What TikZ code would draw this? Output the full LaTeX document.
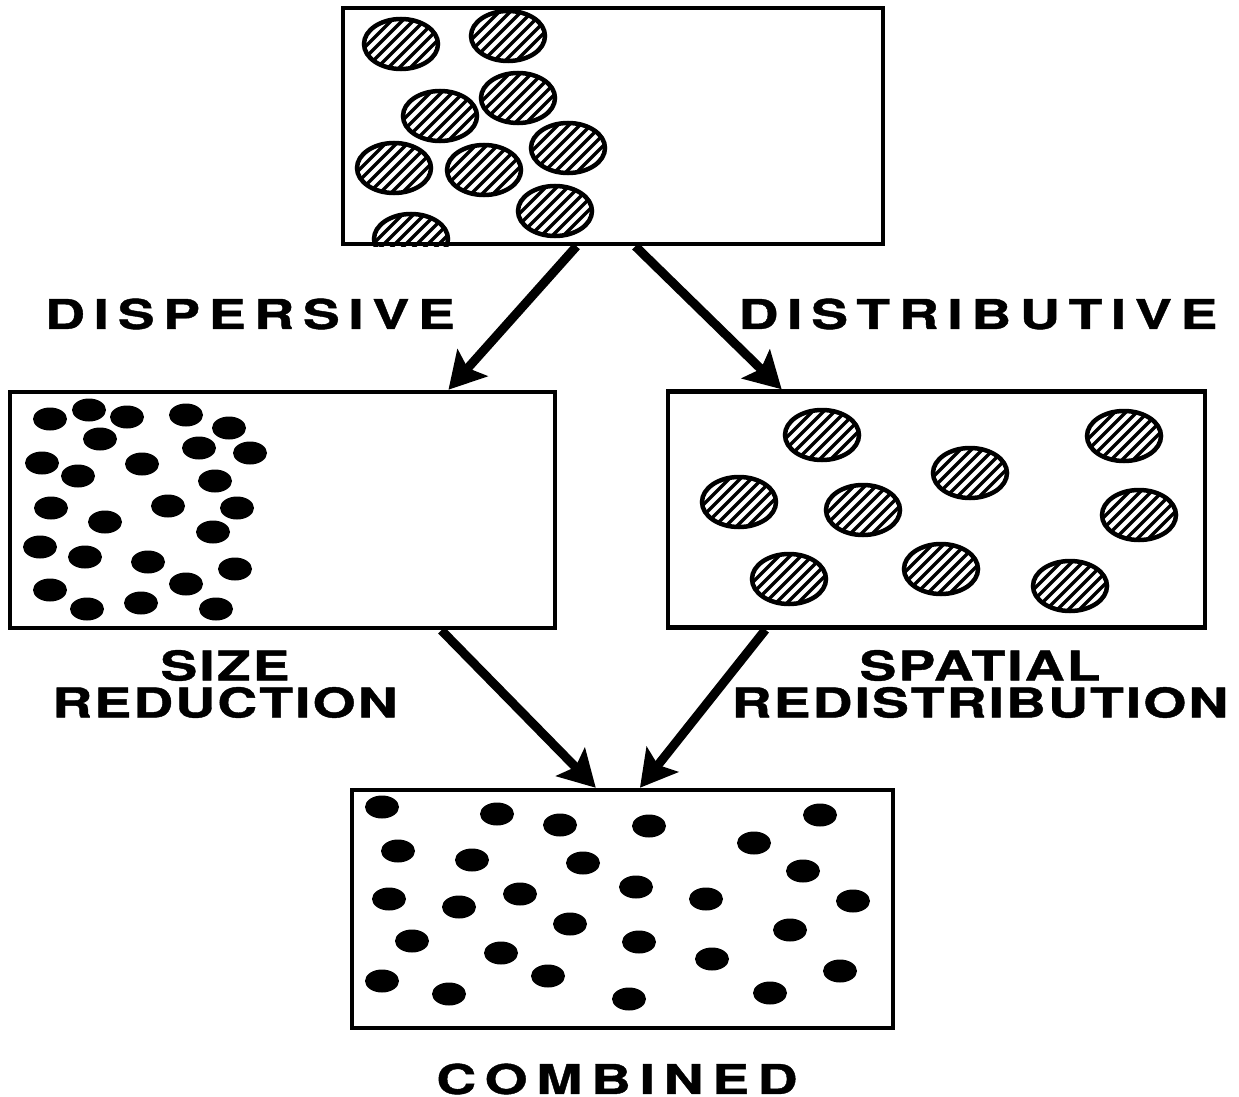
\documentclass[tikz,border=0pt]{standalone}
\usepackage{fontspec}
\usetikzlibrary{calc,arrows.meta}
\newfontfamily\headfont{TeX Gyre Heros}[FakeStretch=1.35,LetterSpace=21,FakeBold=1]
\newfontfamily\capfont{TeX Gyre Heros}[FakeStretch=1.35,LetterSpace=5,FakeBold=1]
\tikzset{
  panel/.style={draw=black, line width=4.5pt, inner sep=0pt, minimum height=236pt},
  flow/.style={draw=black, line width=9pt, -{Stealth[length=36pt,width=40pt,inset=7pt]}},
  ring/.style={draw=black, line width=4.5pt},
  hatch/.style={draw=black, line width=3.5pt},
  dot/.style={fill=black},
  head/.style={text=black, font=\headfont\bfseries\fontsize{41}{37}\selectfont},
  captext/.style={text=black, align=center, font=\capfont\bfseries\fontsize{41}{37}\selectfont},
}
\newcommand{\hatchblob}[2]{%
  \begin{scope}
    \clip (#1,#2) ellipse [x radius=37, y radius=25];
    \foreach \k in {-66,-55,...,66}
      \draw[hatch] ({#1+(\k)-40},{#2+40}) -- ++(80,-80);
  \end{scope}
  \draw[ring] (#1,#2) ellipse [x radius=37, y radius=25];}
\newcommand{\dotblob}[2]{\fill[dot] (#1,#2) ellipse [x radius=17, y radius=11.5];}

\begin{document}
\begin{tikzpicture}[x=1pt,y=-1pt]
  \useasboundingbox (0,0) rectangle (1239,1097);

  \node[panel, minimum width=540pt] (top) at (613,126) {};
  \node[panel, minimum width=545pt] (disp) at (282.5,510) {};
  \node[panel, minimum width=537pt] (dist) at (936.5,509.5) {};
  \node[panel, minimum width=541pt, minimum height=238pt] (comb) at (622.5,909) {};

  % coarse particles, clustered
  \begin{scope}
    \clip (top.south west) rectangle (top.north east);
    \foreach \x/\y in {401/44,508/36,440/116,518/98,568/148,394/168,484/170,555/211,411/239}
      \hatchblob{\x}{\y};
  \end{scope}

  % coarse particles, spread out
  \foreach \x/\y in {822/435,1124/436,970/473,739/502,863/510,1139/515,789/579,941/569,1070/586}
    \hatchblob{\x}{\y};

  % fine particles, clustered
  \foreach \x/\y in {50/419,89/410,127/417,186/415,229/428,100/439,199/448,250/453,
                     42/463,78/476,142/464,215/481,51/508,168/506,237/508,105/522,
                     213/532,40/547,85/557,148/562,235/569,186/584,50/590,87/609,
                     141/603,216/609}
    \dotblob{\x}{\y};

  % fine particles, spread out
  \foreach \x/\y in {382/807,497/814,560/825,649/826,820/815,398/851,472/860,583/863,
                     754/843,803/871,389/899,459/907,520/894,636/887,706/899,853/901,
                     570/924,412/941,501/953,639/942,712/959,790/930,382/981,449/994,
                     548/976,629/999,770/993,840/971}
    \dotblob{\x}{\y};

  \draw[flow] ($(top.south west)!0.433!(top.south east)$) -- ($(disp.north west)!0.802!(disp.north east)$);
  \draw[flow] ($(top.south west)!0.541!(top.south east)$) -- ($(dist.north west)!0.214!(dist.north east)$);
  \draw[flow] ($(disp.south west)!0.789!(disp.south east)$) -- ($(comb.north west)!0.451!(comb.north east)$);
  \draw[flow] ($(dist.south west)!0.184!(dist.south east)$) -- ($(comb.north west)!0.532!(comb.north east)$);

  \node[head] (dispersive) at (250,314) {DISPERSIVE};
  \node[head] (distributive) at (978,314) {DISTRIBUTIVE};
  \node[captext] (sizered) at (225,684) {SIZE\\REDUCTION};
  \node[captext] (spatial) at (980,684) {SPATIAL\\REDISTRIBUTION};
  \node[head] (combined) at (617,1079) {COMBINED};
\end{tikzpicture}
\end{document}
